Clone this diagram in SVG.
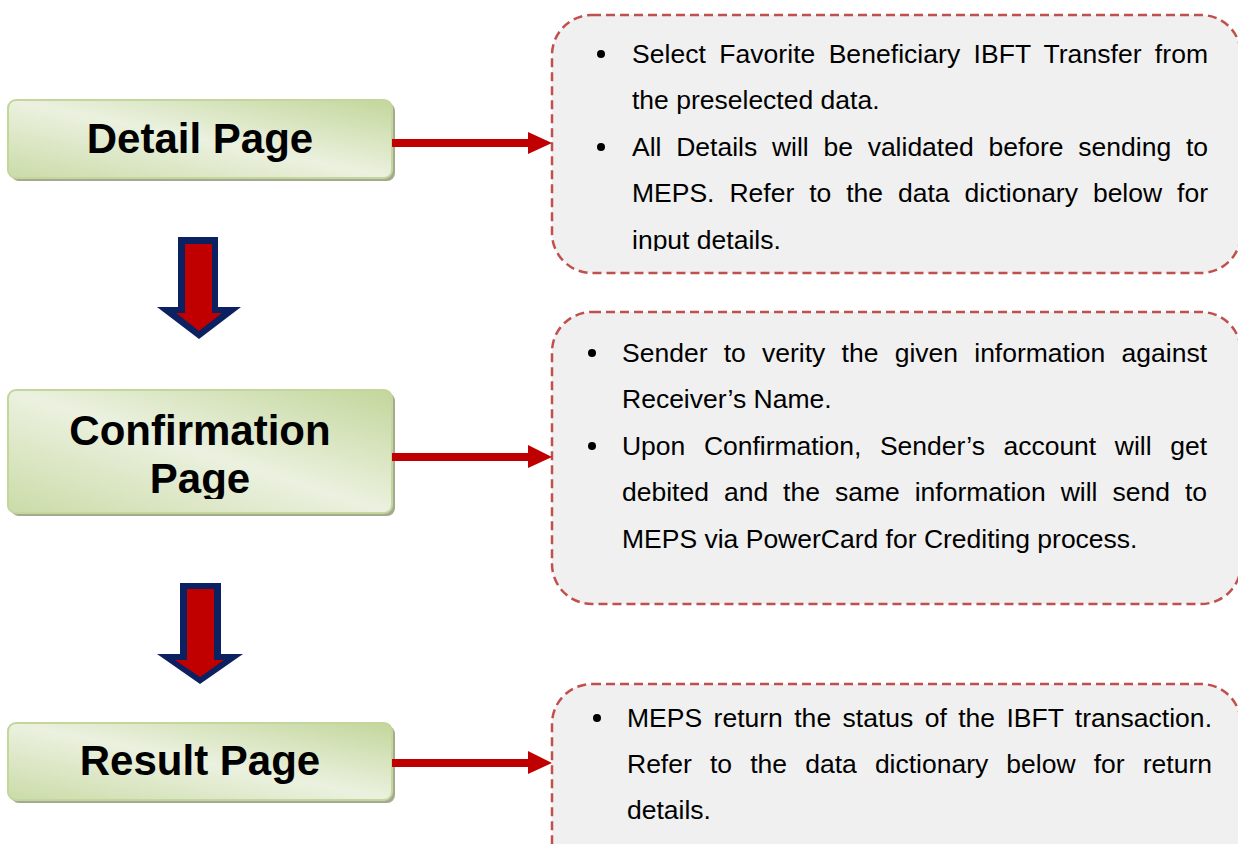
<svg xmlns="http://www.w3.org/2000/svg" width="1238" height="844" viewBox="0 0 1238 844">
<style>
.node{fill:url(#g);stroke:#c3d69b;stroke-width:2}
.shadow{fill:#a3aa8f}
.title{font-family:"Liberation Sans",Arial,sans-serif;font-weight:bold;font-size:42px;fill:#000;text-anchor:middle}
.note{fill:#f0f0f0;stroke:#c0504d;stroke-width:2.5;stroke-dasharray:9 5}
.t{font-family:"Liberation Sans",Arial,sans-serif;font-size:26.5px;fill:#000}
.conn{stroke:#c00000;stroke-width:8;fill:none}
.head{fill:#c00000}
.dout{fill:#0b2161}
.din{fill:#c00000}
.bul{fill:#000}
</style>
<defs>
<linearGradient id="g" x1="0" y1="1" x2="1" y2="0">
<stop offset="0" stop-color="#cbdba8"/>
<stop offset="0.5" stop-color="#ebf1df"/>
<stop offset="1" stop-color="#c3d69b"/>
</linearGradient>
<clipPath id="c1"><rect x="0" y="0" width="1238" height="251"/></clipPath>
<clipPath id="c2"><rect x="0" y="380" width="400" height="119"/></clipPath>
</defs>

<g id="note1">
<rect class="note" x="552" y="15" width="689" height="258" rx="40"/>
<g clip-path="url(#c1)">
<circle class="bul" cx="601" cy="54" r="4"/>
<circle class="bul" cx="601" cy="147" r="4"/>
<text class="t" x="632" y="63" word-spacing="5.9" textLength="576" lengthAdjust="spacing">Select Favorite Beneficiary IBFT Transfer from</text>
<text class="t" x="632" y="109">the preselected data.</text>
<text class="t" x="632" y="156" word-spacing="7.4" textLength="576" lengthAdjust="spacing">All Details will be validated before sending to</text>
<text class="t" x="632" y="202" word-spacing="7.6" textLength="576" lengthAdjust="spacing">MEPS. Refer to the data dictionary below for</text>
<text class="t" x="632" y="249">input details.</text>
</g>
</g>

<g id="note2">
<rect class="note" x="552" y="312" width="689" height="292" rx="40"/>
<circle class="bul" cx="592" cy="353" r="4"/>
<circle class="bul" cx="592" cy="446" r="4"/>
<text class="t" x="622" y="362" word-spacing="8.9" textLength="585" lengthAdjust="spacing">Sender to verity the given information against</text>
<text class="t" x="622" y="408">Receiver’s Name.</text>
<text class="t" x="622" y="455" word-spacing="11.3" textLength="585" lengthAdjust="spacing">Upon Confirmation, Sender’s account will get</text>
<text class="t" x="622" y="501" word-spacing="7.6" textLength="585" lengthAdjust="spacing">debited and the same information will send to</text>
<text class="t" x="622" y="548">MEPS via PowerCard for Crediting process.</text>
</g>

<g id="note3">
<rect class="note" x="552" y="684" width="689" height="200" rx="40"/>
<circle class="bul" cx="597" cy="718" r="4"/>
<text class="t" x="627" y="727" word-spacing="4.0" textLength="585" lengthAdjust="spacing">MEPS return the status of the IBFT transaction.</text>
<text class="t" x="627" y="773" word-spacing="10.8" textLength="585" lengthAdjust="spacing">Refer to the data dictionary below for return</text>
<text class="t" x="627" y="819">details.</text>
</g>

<g id="detail">
<rect class="shadow" x="11" y="103" width="384" height="78" rx="8"/>
<rect class="node" x="8" y="100" width="384" height="78" rx="8"/>
<text class="title" x="200" y="153">Detail Page</text>
</g>

<g id="confirmation">
<rect class="shadow" x="11" y="393" width="384" height="123" rx="8"/>
<rect class="node" x="8" y="390" width="384" height="123" rx="8"/>
<g clip-path="url(#c2)">
<text class="title" x="200" y="445">Confirmation</text>
<text class="title" x="200" y="493">Page</text>
</g>
</g>

<g id="result">
<rect class="shadow" x="11" y="726" width="384" height="77" rx="8"/>
<rect class="node" x="8" y="723" width="384" height="77" rx="8"/>
<text class="title" x="200" y="775">Result Page</text>
</g>

<g id="connectors">
<line class="conn" x1="392" y1="143" x2="530" y2="143"/>
<polygon class="head" points="528,132 552,143 528,154"/>
<line class="conn" x1="392" y1="457" x2="530" y2="457"/>
<polygon class="head" points="528,445 552,457 528,468"/>
<line class="conn" x1="392" y1="763" x2="530" y2="763"/>
<polygon class="head" points="528,751 552,763 528,774"/>

<polygon class="dout" points="178,237 218,237 218,307 241,307 199,339 157,307 178,307"/>
<polygon class="din" points="185,244 212,244 212,313 222,313 199,331 176,313 185,313"/>

<polygon class="dout" points="180,583 221,583 221,654 243,654 200,684 157,654 180,654"/>
<polygon class="din" points="187,589 214,589 214,660 224,660 200,677 175,660 187,660"/>
</g>
</svg>
